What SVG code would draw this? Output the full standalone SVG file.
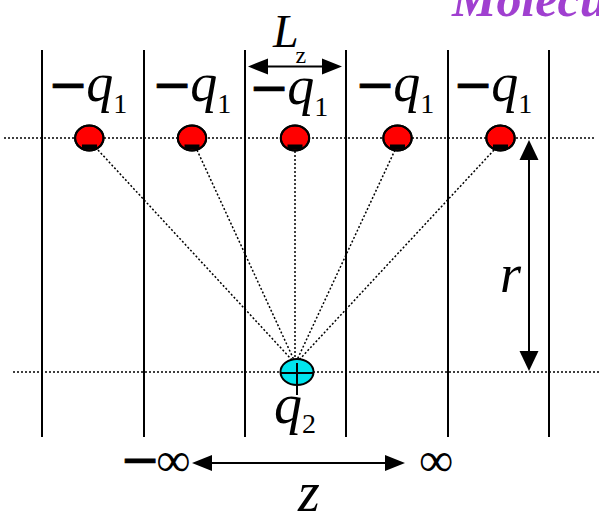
<svg xmlns="http://www.w3.org/2000/svg" width="599" height="515" viewBox="0 0 599 515">
<defs>
<style>
.wall{stroke:#000;stroke-width:2;fill:none}
.dot{stroke:#000;stroke-width:1.5;stroke-dasharray:2 2;fill:none}
.arr{stroke:#000;stroke-width:2;fill:none}
.head{fill:#000;stroke:none}
.red{fill:#ff0000;stroke:#000;stroke-width:2}
.bar{fill:#000}
.lbl{font-family:"Liberation Serif","Times New Roman",serif;fill:#000}
.it{font-style:italic}
.mn{font-family:"DejaVu Sans",sans-serif;font-size:48px;stroke:#000;stroke-width:0.8}
</style>
</defs>
<text x="452" y="16" style="font-family:'Liberation Serif',serif;font-style:italic;font-weight:bold;font-size:50px;fill:#a040d0">Molecu</text>
<g id="walls">
<line class="wall" x1="42" y1="50" x2="42" y2="437"/>
<line class="wall" x1="144" y1="50" x2="144" y2="437"/>
<line class="wall" x1="245" y1="50" x2="245" y2="437"/>
<line class="wall" x1="346" y1="50" x2="346" y2="437"/>
<line class="wall" x1="448" y1="50" x2="448" y2="437"/>
<line class="wall" x1="549" y1="50" x2="549" y2="437"/>
</g>
<g id="connectors">
<line class="dot" x1="4" y1="138" x2="596" y2="138"/>
<line class="dot" x1="13" y1="372" x2="599" y2="372"/>
<line class="dot" x1="98" y1="150" x2="292" y2="360"/>
<line class="dot" x1="197" y1="150" x2="294" y2="360"/>
<line class="dot" x1="295" y1="151" x2="295" y2="360"/>
<line class="dot" x1="395" y1="150" x2="297" y2="360"/>
<line class="dot" x1="494" y1="150" x2="299" y2="360"/>
<line class="arr" x1="265" y1="66.5" x2="325" y2="66.5"/>
<polygon class="head" points="248,66.5 268,58.5 268,74.5"/>
<polygon class="head" points="342,66.5 322,58.5 322,74.5"/>
<line class="arr" x1="529" y1="158" x2="529" y2="353"/>
<polygon class="head" points="529,140 519.5,160 538.5,160"/>
<polygon class="head" points="529,371 519.5,351 538.5,351"/>
<line class="arr" x1="210" y1="463" x2="388" y2="463"/>
<polygon class="head" points="192,463 212,455 212,471"/>
<polygon class="head" points="405,463 385,455 385,471"/>
</g>
<g id="charge1">
<ellipse class="red" cx="89.3" cy="138" rx="14.2" ry="12.5"/>
<rect class="bar" x="82" y="144.5" width="15" height="5"/>
<ellipse cx="89.3" cy="138" rx="14.2" ry="12.5" style="fill:none;stroke:#000;stroke-width:2"/>
</g>
<g id="charge2">
<ellipse class="red" cx="192" cy="138" rx="14.2" ry="12.5"/>
<rect class="bar" x="184.5" y="144.5" width="15" height="5"/>
<ellipse cx="192" cy="138" rx="14.2" ry="12.5" style="fill:none;stroke:#000;stroke-width:2"/>
</g>
<g id="charge3">
<ellipse class="red" cx="295" cy="138" rx="14.2" ry="12.5"/>
<rect class="bar" x="287.5" y="144.5" width="15" height="5"/>
<ellipse cx="295" cy="138" rx="14.2" ry="12.5" style="fill:none;stroke:#000;stroke-width:2"/>
</g>
<g id="charge4">
<ellipse class="red" cx="397.5" cy="138" rx="14.2" ry="12.5"/>
<rect class="bar" x="390" y="144.5" width="15" height="5"/>
<ellipse cx="397.5" cy="138" rx="14.2" ry="12.5" style="fill:none;stroke:#000;stroke-width:2"/>
</g>
<g id="charge5">
<ellipse class="red" cx="500.5" cy="138" rx="14.2" ry="12.5"/>
<rect class="bar" x="493" y="144.5" width="15" height="5"/>
<ellipse cx="500.5" cy="138" rx="14.2" ry="12.5" style="fill:none;stroke:#000;stroke-width:2"/>
</g>
<g id="charge-q2">
<ellipse cx="297" cy="372" rx="16.5" ry="13" style="fill:#00e5ee;stroke:#000;stroke-width:2"/>
<line x1="281" y1="373" x2="313" y2="373" style="stroke:#000;stroke-width:2"/>
<line x1="297" y1="363" x2="297" y2="395" style="stroke:#000;stroke-width:2"/>
</g>
<g id="labels">
<text class="lbl" x="48" y="101" style="font-size:54px"><tspan class="mn">−</tspan><tspan class="it" dx="-2">q</tspan><tspan style="font-size:28px" dy="12">1</tspan></text>
<text class="lbl" x="152" y="101" style="font-size:54px"><tspan class="mn">−</tspan><tspan class="it" dx="-2">q</tspan><tspan style="font-size:28px" dy="12">1</tspan></text>
<text class="lbl" x="249" y="104" style="font-size:54px"><tspan class="mn">−</tspan><tspan class="it" dx="-2">q</tspan><tspan style="font-size:28px" dy="12">1</tspan></text>
<text class="lbl" x="355" y="101" style="font-size:54px"><tspan class="mn">−</tspan><tspan class="it" dx="-2">q</tspan><tspan style="font-size:28px" dy="12">1</tspan></text>
<text class="lbl" x="453" y="101" style="font-size:54px"><tspan class="mn">−</tspan><tspan class="it" dx="-2">q</tspan><tspan style="font-size:28px" dy="12">1</tspan></text>
<text class="lbl" x="273" y="47" style="font-size:46px"><tspan class="it">L</tspan><tspan style="font-size:24px" dy="16" dx="-3">z</tspan></text>
<text class="lbl it" x="500" y="292" style="font-size:54px">r</text>
<text class="lbl" x="274" y="423" style="font-size:56px"><tspan class="it">q</tspan><tspan style="font-size:28px" dy="10">2</tspan></text>
<text class="lbl" x="120" y="476" style="font-size:48px"><tspan class="mn">−</tspan><tspan dx="-4">∞</tspan></text>
<text class="lbl" x="419" y="476" style="font-size:48px">∞</text>
<text class="lbl it" x="298" y="511" style="font-size:56px">z</text>
</g>
</svg>
